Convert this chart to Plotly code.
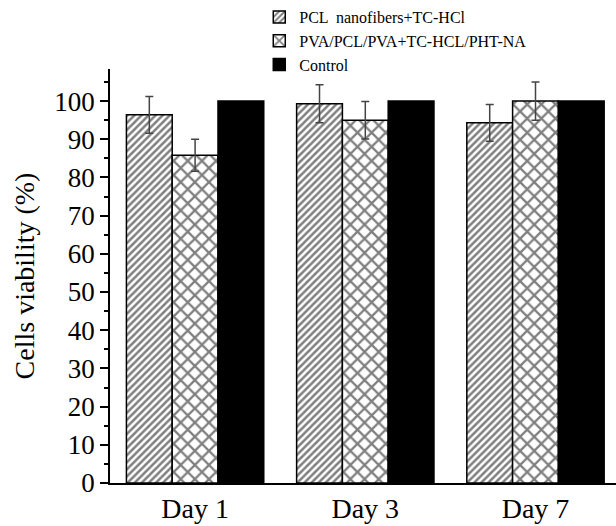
import plotly.graph_objects as go

categories = ["Day 1", "Day 3", "Day 7"]
series_names = ["PCL  nanofibers+TC-HCl", "PVA/PCL/PVA+TC-HCL/PHT-NA", "Control"]
pcl_vals = [96.4, 99.3, 94.3]
pcl_err = [4.8, 5.0, 4.8]
pva_vals = [85.8, 95.0, 100.0]
pva_err = [4.2, 4.9, 5.0]
ctrl_vals = [100.0, 100.0, 100.0]
y_ticks = [0, 10, 20, 30, 40, 50, 60, 70, 80, 90, 100]

FONT = "Liberation Serif, Times New Roman, serif"

fig = go.Figure()
fig.add_trace(go.Bar(
    x=categories, y=pcl_vals, name=series_names[0],
    marker=dict(color="white", line=dict(color="black", width=1.5),
                pattern=dict(shape="/", fgcolor="black", bgcolor="white", size=5, solidity=0.5)),
    error_y=dict(type="data", array=pcl_err, visible=True, color="#444444", thickness=1.5, width=4),
))
fig.add_trace(go.Bar(
    x=categories, y=pva_vals, name=series_names[1],
    marker=dict(color="white", line=dict(color="black", width=1.5),
                pattern=dict(shape="x", fgcolor="black", bgcolor="white", size=10, solidity=0.4)),
    error_y=dict(type="data", array=pva_err, visible=True, color="#444444", thickness=1.5, width=4),
))
fig.add_trace(go.Bar(
    x=categories, y=ctrl_vals, name=series_names[2],
    marker=dict(color="black", line=dict(color="black", width=1.5)),
))

fig.update_layout(
    width=616, height=526,
    margin=dict(l=110, r=0, t=67, b=43),
    paper_bgcolor="white", plot_bgcolor="white",
    barmode="group", bargap=0.193, bargroupgap=0,
    font=dict(family=FONT, color="black"),
    showlegend=True,
    legend=dict(x=0.295, y=1.167, xanchor="left", yanchor="top",
                font=dict(family=FONT, size=16, color="black"),
                bgcolor="rgba(0,0,0,0)", tracegroupgap=0, itemwidth=30),
    xaxis=dict(range=[-0.5, 2.473], showline=True, linecolor="black", linewidth=1.5,
               ticks="", tickfont=dict(family=FONT, size=28), showgrid=False, zeroline=False),
    yaxis=dict(range=[0, 108.4], tickvals=y_ticks, ticks="outside", ticklen=8, tickwidth=1.5,
               tickcolor="black", showline=True, linecolor="black", linewidth=1.5,
               tickfont=dict(family=FONT, size=27), showgrid=False, zeroline=False,
               minor=dict(dtick=5, ticks="outside", ticklen=4, tickwidth=1.5, tickcolor="black"),
               title=dict(text="Cells viability (%)", font=dict(family=FONT, size=28), standoff=12)),
)

fig.write_html("out.html", config={"displayModeBar": False},
               post_script="document.body.style.margin='0';document.body.style.padding='0';")
